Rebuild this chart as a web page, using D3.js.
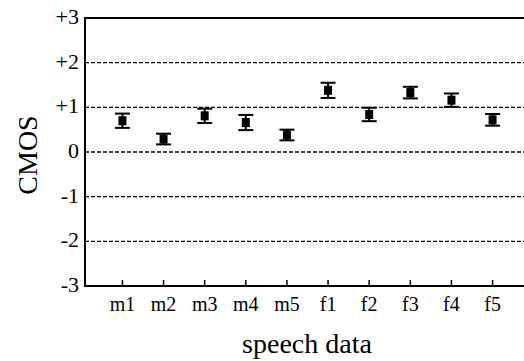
<!DOCTYPE html>
<html>
<head>
<meta charset="utf-8">
<script src="https://cdn.jsdelivr.net/npm/d3@7"></script>
<style>
    body {margin: 0; background: #fff;}
    svg {display: block; font-family: "Liberation Serif", "Times New Roman", serif;}
</style>
</head>
<body>
<div id="chart"></div>
<script>

const categories=["m1", "m2", "m3", "m4", "m5", "f1", "f2", "f3", "f4", "f5"];
const means=[0.70, 0.29, 0.81, 0.66, 0.38, 1.38, 0.84, 1.33, 1.16, 0.72];
const errors=[0.16, 0.12, 0.16, 0.17, 0.12, 0.17, 0.15, 0.13, 0.15, 0.13];
const yTicks=[-3, -2, -1, 0, 1, 2, 3];
const yTickLabels=["-3", "-2", "-1", "0", "+1", "+2", "+3"];

const width=524, height=361;
const plotLeft=85, plotTop=18, plotBottom=286, plotRight=530;

const svg=d3.select("#chart").append("svg")
    .attr("width", width)
    .attr("height", height);

const x=d3.scalePoint()
    .domain(categories)
    .range([plotLeft, plotRight])
    .padding(0.91);

const y=d3.scaleLinear()
    .domain([-3, 3])
    .range([plotBottom, plotTop]);

// dashed grid lines
svg.selectAll(".grid")
    .data(yTicks.filter(d => d>-3 && d<3))
    .enter().append("line")
    .attr("class", "grid")
    .attr("x1", plotLeft)
    .attr("x2", plotRight)
    .attr("y1", d => y(d))
    .attr("y2", d => y(d))
    .style("stroke", "#000")
    .style("stroke-width", 1.3)
    .style("stroke-dasharray", "4,2");

// frame
svg.append("path")
    .attr("d", `M${plotRight},${y(3)}H${plotLeft}V${y(-3)}H${plotRight}`)
    .style("fill", "none")
    .style("stroke", "#000")
    .style("stroke-width", 2);

// x ticks pointing inward
svg.selectAll(".xtick")
    .data(categories)
    .enter().append("line")
    .attr("class", "xtick")
    .attr("x1", d => x(d))
    .attr("x2", d => x(d))
    .attr("y1", y(-3))
    .attr("y2", y(-3)-6)
    .style("stroke", "#000")
    .style("stroke-width", 1.5);

svg.selectAll(".xlabel")
    .data(categories)
    .enter().append("text")
    .attr("class", "xlabel")
    .attr("x", d => x(d))
    .attr("y", 311)
    .attr("text-anchor", "middle")
    .style("font-size", "20px")
    .text(d => d);

svg.selectAll(".ylabel")
    .data(yTicks)
    .enter().append("text")
    .attr("class", "ylabel")
    .attr("x", 79)
    .attr("y", d => y(d)+6)
    .attr("text-anchor", "end")
    .style("font-size", "22px")
    .text((d, i) => yTickLabels[i]);

svg.append("text")
    .attr("x", 307)
    .attr("y", 353)
    .attr("text-anchor", "middle")
    .style("font-size", "28px")
    .text("speech data");

svg.append("text")
    .attr("transform", "translate(37,155) rotate(-90)")
    .attr("text-anchor", "middle")
    .style("font-size", "28px")
    .text("CMOS");

// error bars and markers
const pts=categories.map((c, i) => ({c: c, m: means[i], e: errors[i]}));

const g=svg.selectAll(".pt")
    .data(pts)
    .enter().append("g")
    .attr("class", "pt");

g.append("line")
    .attr("x1", d => x(d.c))
    .attr("x2", d => x(d.c))
    .attr("y1", d => y(d.m+d.e))
    .attr("y2", d => y(d.m-d.e))
    .style("stroke", "#000")
    .style("stroke-width", 2);

g.selectAll(".cap")
    .data(d => [{c: d.c, v: d.m+d.e}, {c: d.c, v: d.m-d.e}])
    .enter().append("line")
    .attr("class", "cap")
    .attr("x1", d => x(d.c)-7.5)
    .attr("x2", d => x(d.c)+7.5)
    .attr("y1", d => y(d.v))
    .attr("y2", d => y(d.v))
    .style("stroke", "#000")
    .style("stroke-width", 2);

g.append("rect")
    .attr("x", d => x(d.c)-4)
    .attr("y", d => y(d.m)-4.5)
    .attr("width", 8)
    .attr("height", 9)
    .style("fill", "#000");

</script>
</body>
</html>
